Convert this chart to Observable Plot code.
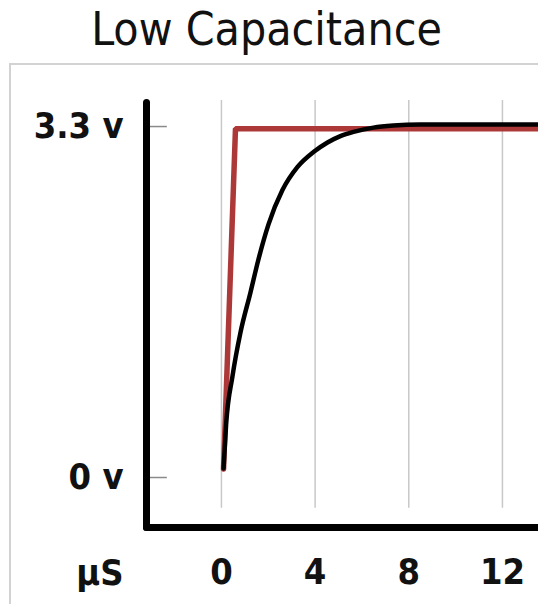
<!DOCTYPE html>
<html>
<head>
<meta charset="utf-8">
<script src="https://cdn.jsdelivr.net/npm/d3@7"></script>
<script src="https://cdn.jsdelivr.net/npm/@observablehq/plot@0.6"></script>
<style>
  html, body { margin: 0; padding: 0; background: #fff; }
  #page { position: relative; width: 538px; height: 604px; overflow: hidden; }
  #title {
    position: absolute; left: 0; top: 2px; width: 538px; height: 62px;
    font-family: "DejaVu Sans Condensed", "DejaVu Sans", sans-serif;
    font-size: 46px; line-height: 54px; text-align: center; color: #111;
    box-sizing: border-box; padding-right: 5px;
  }
  #box {
    position: absolute; left: 9px; top: 63px; width: 700px; height: 700px;
    border-top: 2px solid #d2d2d2; border-left: 2px solid #d2d2d2;
  }
  #chart { position: absolute; left: 0; top: 62px; }
  #chart svg { background: transparent; display: block; }
</style>
</head>
<body>
<div id="page">
  <div id="title"></div>
  <div id="box"></div>
  <div id="chart"></div>
</div>
<script>
// ---- data ----
const titleText = "Low Capacitance";
const xTicks = [0, 4, 8, 12];
const xTickLabels = ["0", "4", "8", "12"];
const xUnitLabel = "µS";
const yTicks = [0, 3.3];
const yTickLabels = ["0 v", "3.3 v"];
const xDomain = [-3.2, 13.54];
const yDomain = [-0.47, 3.526];
const gridExtent = [-0.29, 3.544];
const yTickExtent = [-3.2, -2.31];

// input step (red)
const inputT = [0.09, 0.6, 13.6];
const inputV = [0.08, 3.28, 3.28];

// capacitor voltage (black)
const capT = [0.09, 0.2, 0.47, 0.81, 1.24, 1.58, 2.01, 2.60, 3.25, 3.93, 4.53, 5.08, 5.64, 6.49, 7.34, 8.5, 13.6];
const capV = [0.085, 0.5, 0.95, 1.36, 1.74, 2.05, 2.38, 2.70, 2.92, 3.06, 3.15, 3.21, 3.25, 3.29, 3.31, 3.32, 3.32];

// ---- build ----
document.getElementById("title").textContent = titleText;
const inputRows = inputT.map((t, i) => ({t, v: inputV[i]}));
const capRows = capT.map((t, i) => ({t, v: capV[i]}));
const font = '"DejaVu Sans Condensed", "DejaVu Sans", sans-serif';

const chart = Plot.plot({
  width: 538,
  height: 542,
  marginLeft: 146,
  marginRight: 0,
  marginTop: 40,
  marginBottom: 77,
  style: {background: "transparent", fontFamily: font},
  x: {domain: xDomain, axis: null},
  y: {domain: yDomain, axis: null},
  marks: [
    Plot.ruleX(xTicks, {y1: gridExtent[0], y2: gridExtent[1], stroke: "#c8c8c8", strokeWidth: 1.5}),
    Plot.ruleY(yTicks, {x1: yTickExtent[0], x2: yTickExtent[1], stroke: "#8a8a8a", strokeWidth: 1.5}),
    Plot.line(inputRows, {x: "t", y: "v", stroke: "#ad3838", strokeWidth: 5.5, strokeLinejoin: "miter"}),
    Plot.line(capRows, {x: "t", y: "v", stroke: "#000", strokeWidth: 4.5, curve: "monotone-x"}),
    Plot.frame({anchor: "left", stroke: "#000", strokeWidth: 7, strokeLinecap: "round"}),
    Plot.frame({anchor: "bottom", stroke: "#000", strokeWidth: 7, strokeLinecap: "round"}),
    Plot.axisY(yTicks, {
      tickSize: 0, tickPadding: 23, label: null,
      tickFormat: (d) => yTickLabels[yTicks.indexOf(d)],
      fontSize: 36, fontWeight: "bold", fill: "#111", fontFamily: font
    }),
    Plot.axisX(xTicks, {
      tickSize: 0, tickPadding: 31, label: null,
      tickFormat: (d) => xTickLabels[xTicks.indexOf(d)],
      fontSize: 36, fontWeight: "bold", fill: "#111", fontFamily: font
    }),
    Plot.text([xUnitLabel], {
      frameAnchor: "bottom-left", dx: -23, dy: 46, textAnchor: "end", lineAnchor: "middle",
      fontSize: 36, fontWeight: "bold", fill: "#111", fontFamily: font
    })
  ]
});
document.getElementById("chart").appendChild(chart);
</script>
</body>
</html>
